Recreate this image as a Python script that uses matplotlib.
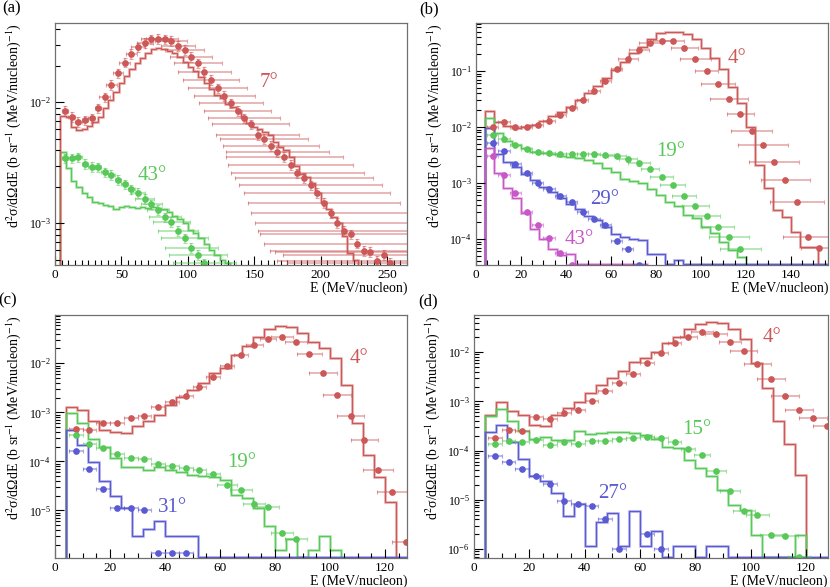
import numpy as np
import matplotlib
matplotlib.use("Agg")
import matplotlib.pyplot as plt
from matplotlib.ticker import LogLocator, MultipleLocator, NullFormatter

plt.rcParams['font.family'] = ['Liberation Serif', 'DejaVu Serif']
plt.rcParams['mathtext.fontset'] = 'stix'

RED = '#cc5858'
GREEN = '#58c858'
BLUE = '#5a5ad2'
MAGENTA = '#c858c8'

# ---------------- panel (a) ----------------
a_e7 = np.arange(7.5, 253, 5)
a_y7 = [8.5e-3, 7.6e-3, 6.9e-3, 7.1e-3, 7.4e-3, 8.9e-3, 1.1e-2, 1.39e-2, 1.74e-2, 2.13e-2,
        2.51e-2, 2.85e-2, 3.11e-2, 3.32e-2, 3.34e-2, 3.32e-2, 3.21e-2, 2.92e-2, 2.71e-2, 2.38e-2,
        2.1e-2, 1.79e-2, 1.53e-2, 1.31e-2, 1.13e-2, 9.8e-3, 8.5e-3, 7.4e-3, 6.6e-3, 5.4e-3,
        5.0e-3, 4.36e-3, 3.9e-3, 3.55e-3, 3.03e-3, 2.59e-3, 2.38e-3, 2.07e-3, 1.79e-3, 1.48e-3,
        1.21e-3, 1.01e-3, 8.7e-4, 8.1e-4, 6.8e-4, 5.9e-4, 5.8e-4, 4.9e-4, 5.5e-4, 4.7e-4]
a_xerr7 = [2.5, 2.5, 2.5, 2.5, 2.5, 2.5, 4, 4, 4, 4, 4, 5, 6, 8, 9, 10, 12, 13, 15, 16, 18,
           20, 21, 22, 23, 24, 25, 27, 29, 31, 33, 36, 39, 44, 47, 50, 52, 54, 55, 57, 60,
           62, 65, 68, 70, 71, 72, 75, 76, 78]
a_h7 = [7.7e-3, 7.6e-3, 6.3e-3, 5.9e-3, 6.0e-3, 6.4e-3, 6.9e-3, 7.6e-3, 8.9e-3, 1.05e-2,
        1.22e-2, 1.44e-2, 1.65e-2, 1.87e-2, 2.1e-2, 2.34e-2, 2.57e-2, 2.74e-2, 2.8e-2, 2.74e-2,
        2.67e-2, 2.54e-2, 2.35e-2, 2.17e-2, 1.97e-2, 1.83e-2, 1.63e-2, 1.44e-2, 1.28e-2, 1.15e-2,
        1.08e-2, 9.6e-3, 9.1e-3, 8.4e-3, 7.6e-3, 6.8e-3, 6.3e-3, 6.0e-3, 5.7e-3, 5.4e-3,
        4.7e-3, 4.3e-3, 4.0e-3, 3.55e-3, 3.0e-3, 2.56e-3, 2.43e-3, 2.14e-3, 1.77e-3, 1.51e-3,
        1.3e-3, 1.13e-3, 1.0e-3, 7.8e-4, 5.65e-4, 5.0e-4]

a_e43 = np.arange(7.5, 113, 5)
a_y43 = [3.44e-3, 3.44e-3, 3.51e-3, 3.09e-3, 2.94e-3, 2.90e-3, 2.64e-3, 2.51e-3, 2.28e-3, 2.10e-3,
         1.91e-3, 1.79e-3, 1.59e-3, 1.44e-3, 1.29e-3, 1.12e-3, 1.03e-3, 8.7e-4, 7.5e-4, 6.3e-4,
         5.5e-4, 4.67e-4]
a_xerr43 = [2.5, 2.5, 2.5, 2.5, 2.5, 2.5, 2.5, 2.5, 2.5, 2.5, 2.5,
            5, 7, 8, 8, 12, 14, 15, 18, 20, 22, 24]
a_h43 = [3.9e-3, 2.85e-3, 2.25e-3, 2.01e-3, 1.79e-3, 1.66e-3, 1.51e-3, 1.46e-3, 1.42e-3, 1.39e-3,
         1.31e-3, 1.36e-3, 1.39e-3, 1.37e-3, 1.33e-3, 1.36e-3, 1.33e-3, 1.37e-3, 1.33e-3, 1.30e-3,
         1.25e-3, 1.15e-3, 1.08e-3, 1.0e-3, 8.8e-4, 8.3e-4, 7.5e-4, 6.8e-4, 6.0e-4, 5.5e-4,
         5.0e-4, 4.7e-4]

# ---------------- panel (b) ----------------
b_e4 = np.arange(7.5, 153, 5)
b_y4 = [1.0e-2, 1.24e-2, 9.8e-3, 9.9e-3, 1.08e-2, 1.29e-2, 1.63e-2, 2.15e-2, 3.03e-2, 4.45e-2,
        6.7e-2, 0.107, 0.162, 0.238, 0.313, 0.349, 0.34, 0.254, 0.162, 0.101,
        5.85e-2, 3.16e-2, 1.70e-2, 8.6e-3, 4.68e-3, 2.4e-3, 1.15e-3, 4.6e-4, 1.08e-4, 7.0e-5]
b_xerr4 = [2.5] * 12 + [4.5, 4.5, 5, 4, 5, 6, 7, 5, 7.5, 8.5, 6, 9, 11, 11, 11, 12, 11, 8]
b_h4 = [1.95e-2, 1.24e-2, 1.05e-2, 9.6e-3, 1.0e-2, 1.1e-2, 1.3e-2, 1.55e-2, 1.85e-2, 2.3e-2,
        3.0e-2, 4.0e-2, 5.4e-2, 7.4e-2, 0.104, 0.147, 0.207, 0.272, 0.368, 0.472,
        0.505, 0.492, 0.459, 0.368, 0.254, 0.169, 0.107, 5.1e-2, 2.72e-2, 1.0e-2,
        2.1e-3, 8.0e-4, 3.3e-4, 2.5e-4, 1.35e-4, 7.1e-5, 7.1e-5]

b_e19 = np.arange(7.5, 118, 5)
b_y19 = [7.2e-3, 6.0e-3, 4.75e-3, 3.97e-3, 3.61e-3, 3.37e-3, 3.28e-3, 3.28e-3, 3.28e-3, 3.23e-3,
         3.14e-3, 3.06e-3, 2.63e-3, 2.23e-3, 1.81e-3, 1.29e-3, 9.1e-4, 5.9e-4, 3.85e-4, 2.55e-4,
         1.64e-4, 1.09e-4, 6.7e-5]
b_xerr19 = [2.5] * 10 + [4, 4, 4, 5, 4, 5, 5.5, 5.5, 6, 6, 7, 9, 9]
b_h19 = [1.42e-2, 7.9e-3, 5.68e-3, 4.75e-3, 4.14e-3, 3.61e-3, 3.46e-3, 3.28e-3, 3.01e-3, 2.93e-3,
         2.74e-3, 2.56e-3, 2.23e-3, 1.87e-3, 1.54e-3, 1.2e-3, 1.1e-3, 9.9e-4, 7.7e-4, 6.1e-4,
         4.65e-4, 3.9e-4, 2.68e-4, 2.34e-4, 1.66e-4, 1.26e-4, 8.95e-5, 6.4e-5, 4.7e-5]

b_e29 = np.arange(7.5, 73, 5)
b_y29 = [5.2e-3, 3.7e-3, 2.17e-3, 1.5e-3, 1.0e-3, 7.9e-4, 5.9e-4, 4.6e-4, 3.0e-4, 2.25e-4,
         1.81e-4, 9.2e-5, 6.5e-5, 3.5e-5]
b_h29 = [9.5e-3, 3.3e-3, 2.4e-3, 1.9e-3, 1.45e-3, 1.12e-3, 8.5e-4, 6.9e-4, 5.5e-4, 4.18e-4,
         3.49e-4, 2.55e-4, 2.16e-4, 1.64e-4, 1.25e-4, 1.1e-4, 1.0e-4, 9.6e-5, 5.5e-5, 5.5e-5,
         0, 4.3e-5] + [0] * 16

b_e43 = np.arange(7.5, 43, 5)
b_y43 = [3.03e-3, 1.39e-3, 6.5e-4, 3.05e-4, 1.75e-4, 1.02e-4, 5.7e-5, 3.5e-5]
b_h43 = [4.3e-3, 1.5e-3, 8.2e-4, 5.3e-4, 2.9e-4, 1.5e-4, 1.0e-4, 6.5e-5, 5.2e-5, 5.5e-5] + [0] * 8

# ---------------- panel (c) ----------------
c_e4 = np.arange(7.5, 128, 5)
c_y4 = [4.53e-4, 4.39e-4, 6.19e-4, 6.0e-4, 7.6e-4, 8.46e-4, 1.27e-3, 1.66e-3, 2.16e-3, 3.25e-3,
        5.19e-3, 8.8e-3, 1.48e-2, 2.36e-2, 3.08e-2, 3.39e-2, 2.68e-2, 1.55e-2, 6.45e-3, 2.26e-3,
        8.46e-4, 2.75e-4, 6.6e-5, 2.35e-5, 2.3e-6]
c_xerr4 = [2.5] * 13 + [3, 3, 4, 4, 4.5, 5, 5, 5, 5, 5.5, 5.5, 5]
c_h4 = [1.31e-3, 1.09e-3, 6.5e-4, 4.39e-4, 4.06e-4, 3.87e-4, 5.3e-4, 6.5e-4, 8.87e-4, 1.42e-3,
        2.09e-3, 2.86e-3, 4.04e-3, 6.25e-3, 7.9e-3, 1.48e-2, 2.25e-2, 3.49e-2, 4.92e-2, 5.75e-2,
        5.4e-2, 4.08e-2, 2.76e-2, 2.02e-2, 1.26e-2, 3.62e-3, 6.0e-4, 1.36e-4, 4.9e-5, 1.45e-5]

c_e19 = np.arange(7.5, 88, 5)
c_y19 = [3.37e-4, 2.24e-4, 1.91e-4, 1.40e-4, 1.16e-4, 1.13e-4, 8.9e-5, 8.1e-5, 7.3e-5, 6.7e-5,
         5.5e-5, 3.33e-5, 2.6e-5, 1.35e-5, 1.18e-5, 3.5e-6, 2.6e-6]
c_xerr19 = [2.5] * 11 + [3.5, 4, 4, 4, 4, 4]
c_h19 = [9.6e-4, 6.0e-4, 2.83e-4, 1.95e-4, 1.16e-4, 7.85e-5, 7.85e-5, 6.7e-5, 7.6e-5, 6.7e-5,
         5.93e-5, 5.32e-5, 5.1e-5, 4.8e-5, 4.2e-5, 2.09e-5, 1.79e-5, 1.12e-5, 4.72e-6, 1.58e-6,
         2.61e-6, 0, 1.58e-6, 3.05e-6, 1.58e-6]

c_e31 = np.arange(7.5, 48, 5)
c_y31 = [1.59e-4, 6.9e-5, 2.76e-5, 1.11e-5, 1.11e-5, 1.0e-5, 1.35e-6, 1.35e-6, 1.35e-6]
c_h31 = [4.39e-4, 2.17e-4, 9.93e-5, 3.89e-5, 1.99e-5, 1.11e-5, 2.95e-6, 4.16e-6, 6.15e-6, 2.95e-6,
         2.95e-6, 2.95e-6] + [0] * 19

# ---------------- panel (d) ----------------
d_e4 = np.arange(7.5, 128, 5)
d_y4 = [1.8e-4, 2.66e-4, 2.54e-4, 4.81e-4, 4.38e-4, 5.8e-4, 6.56e-4, 1.0e-3, 1.6e-3, 2.35e-3,
        3.63e-3, 5.98e-3, 9.55e-3, 1.52e-2, 2.02e-2, 2.63e-2, 2.32e-2, 1.65e-2, 1.08e-2, 5.8e-3,
        2.92e-3, 1.3e-3, 6.55e-4, 4.57e-4, 3.1e-4]
d_xerr4 = [2.5] * 14 + [3, 4, 4, 4, 5, 5, 5, 5, 5, 5, 5]
d_h4 = [5.36e-4, 9.55e-4, 6.27e-4, 5.36e-4, 3.36e-4, 3.1e-4, 5.36e-4, 7.3e-4, 9.55e-4, 1.48e-3,
        2.18e-3, 2.98e-3, 4.18e-3, 6.45e-3, 7.55e-3, 1.03e-2, 1.52e-2, 2.08e-2, 2.93e-2, 3.76e-2,
        4.2e-2, 3.88e-2, 2.93e-2, 1.84e-2, 6.16e-3, 1.86e-3, 3.91e-4, 1.37e-4, 3.2e-5]

d_e15 = np.arange(7.5, 118, 5)
d_y15 = [1.36e-4, 1.59e-4, 1.47e-4, 1.66e-4, 1.32e-4, 1.47e-4, 1.38e-4, 1.54e-4, 1.59e-4, 1.69e-4,
         1.8e-4, 1.88e-4, 1.8e-4, 1.53e-4, 1.09e-4, 7.96e-5, 3.94e-5, 1.48e-5, 5.8e-6, 4.97e-6,
         1.95e-6, 1.8e-6, 6.9e-7]
d_xerr15 = [2.5] * 15 + [3, 3.5, 3.7, 4, 4, 4, 4.5, 4]
d_h15 = [4.96e-4, 6.98e-4, 4.05e-4, 2.54e-4, 1.72e-4, 1.89e-4, 1.66e-4, 1.66e-4, 2.46e-4, 2.2e-4,
         2.27e-4, 2.35e-4, 2.4e-4, 2.3e-4, 2.1e-4, 1.75e-4, 1.2e-4, 1.12e-4, 6.3e-5, 4.4e-5,
         3.08e-5, 1.6e-5, 7.9e-6, 6.1e-6, 1.95e-6, 0, 0, 0, 1.97e-6]

d_e27 = [7.5, 12.5, 17.5, 22.5, 27.5, 32.5, 37.5, 42.5, 47.5, 52.5, 62.5, 67.5]
d_y27 = [7.6e-5, 5.86e-5, 4.29e-5, 3.0e-5, 2.1e-5, 9.3e-6, 8.2e-6, 7.4e-6, 4.07e-6, 1.0e-6,
         2.0e-6, 1.0e-6]
d_h27 = [2.34e-4, 3.26e-4, 1.47e-4, 6.7e-5, 3.0e-5, 2.37e-5, 1.37e-5, 4.76e-6, 8.3e-6, 1.17e-6,
         3.5e-6, 5.5e-6, 1.13e-6, 6.0e-6, 1.13e-6, 2.36e-6, 0, 1.13e-6, 1.13e-6, 0,
         1.13e-6, 1.13e-6] + [0] * 9

BIN0, BINW = 4, 4
W, H = 830, 587


def make_axes(fig, left, top, right, bottom):
    return fig.add_axes([left / W, 1 - bottom / H, (right - left) / W, (bottom - top) / H])


def hist(ax, vals, color, ymin):
    # empty bins are drawn along the bottom of the frame, as ROOT does
    vals = np.clip(np.asarray(vals, dtype=float), ymin * 1.03, None)
    edges = BIN0 + BINW * np.arange(len(vals) + 1)
    ax.stairs(vals, edges, baseline=ymin * 1e-3, color=color, lw=2.2, alpha=0.3)
    ax.stairs(vals, edges, baseline=ymin * 1e-3, color=color, lw=1.0)


def points(ax, e, y, xerr, rel, color):
    y = np.asarray(y)
    ax.errorbar(e, y, yerr=y * rel, xerr=xerr, fmt='none', ecolor=color, elinewidth=1.1,
                capsize=1.5, capthick=0.8, alpha=0.55)
    ax.plot(e, y, 'o', color=color, ms=3.8, mec=color)


def style(ax, xmax, ylim, xmajor):
    ax.set_yscale('log')
    ax.set_xlim(0, xmax)
    ax.set_ylim(*ylim)
    ax.xaxis.set_major_locator(MultipleLocator(xmajor))
    ax.xaxis.set_minor_locator(MultipleLocator(5))
    ax.yaxis.set_major_locator(LogLocator(10))
    ax.yaxis.set_minor_locator(LogLocator(10, subs=np.arange(2, 10)))
    ax.yaxis.set_minor_formatter(NullFormatter())
    ax.tick_params(which='both', direction='in', top=False, right=False,
                   color='black', width=0.8)
    ax.tick_params(axis='x', labelsize=9.5)
    ax.tick_params(axis='y', labelsize=8.5)
    ax.tick_params(which='major', length=6.5, pad=3)
    ax.tick_params(which='minor', length=3.5)
    for s in ax.spines.values():
        s.set_color('#707070')
        s.set_linewidth(0.9)
    ax.set_xlabel('E (MeV/nucleon)', loc='right', fontsize=10, labelpad=0)
    ax.set_ylabel(r'd$^{2}$σ/dΩdE (b sr$^{-1}$ (MeV/nucleon)$^{-1}$)', loc='top', fontsize=10,
                  labelpad=4)


fig = plt.figure(figsize=(8.3, 5.87), dpi=100)

# (a)
ax = make_axes(fig, 55, 23, 407, 265)
ylo = 4.52e-4
hist(ax, a_h43, GREEN, ylo)
hist(ax, a_h7, RED, ylo)
points(ax, a_e43, a_y43, a_xerr43, 0.09, GREEN)
points(ax, a_e7, a_y7, a_xerr7, 0.09, RED)
style(ax, 265, (ylo, 4.52e-2), 50)
ax.text(161, 1.47e-2, '7°', color=RED, fontsize=15, ha='center', va='center')
ax.text(73, 2.46e-3, '43°', color=GREEN, fontsize=15, ha='center', va='center')

# (b)
ax = make_axes(fig, 476, 23, 828, 265)
ylo = 3.43e-5
hist(ax, b_h4, RED, ylo)
hist(ax, b_h19, GREEN, ylo)
hist(ax, b_h29, BLUE, ylo)
hist(ax, b_h43, MAGENTA, ylo)
points(ax, b_e4, b_y4, b_xerr4, 0.08, RED)
points(ax, b_e19, b_y19, b_xerr19, 0.08, GREEN)
points(ax, b_e29, b_y29, 2.5, 0.08, BLUE)
points(ax, b_e43, b_y43, 2.5, 0.08, MAGENTA)
style(ax, 156.5, (ylo, 0.72), 20)
ax.text(116, 0.164, '4°', color=RED, fontsize=15, ha='center', va='center')
ax.text(86.4, 3.58e-3, '19°', color=GREEN, fontsize=15, ha='center', va='center')
ax.text(57, 4.97e-4, '29°', color=BLUE, fontsize=15, ha='center', va='center')
ax.text(46, 9.6e-5, '43°', color=MAGENTA, fontsize=15, ha='center', va='center')

# (c)
ax = make_axes(fig, 55, 315, 407, 558)
ylo = 1.07e-6
hist(ax, c_h4, RED, ylo)
hist(ax, c_h19, GREEN, ylo)
hist(ax, c_h31, BLUE, ylo)
points(ax, c_e4, c_y4, c_xerr4, 0.06, RED)
points(ax, c_e19, c_y19, c_xerr19, 0.06, GREEN)
points(ax, c_e31, c_y31, 2.5, 0.06, BLUE)
style(ax, 128, (ylo, 9.64e-2), 20)
ax.text(110.4, 1.28e-2, '4°', color=RED, fontsize=15, ha='center', va='center')
ax.text(68, 9.3e-5, '19°', color=GREEN, fontsize=15, ha='center', va='center')
ax.text(42.8, 1.13e-5, '31°', color=BLUE, fontsize=15, ha='center', va='center')

# (d)
ax = make_axes(fig, 474, 315, 828, 558)
ylo = 6.56e-7
hist(ax, d_h4, RED, ylo)
hist(ax, d_h15, GREEN, ylo)
hist(ax, d_h27, BLUE, ylo)
points(ax, d_e4, d_y4, d_xerr4, 0.05, RED)
points(ax, d_e15, d_y15, d_xerr15, 0.05, GREEN)
points(ax, d_e27, d_y27, 2.5, 0.05, BLUE)
style(ax, 128, (ylo, 5.71e-2), 20)
ax.text(107.8, 1.95e-2, '4°', color=RED, fontsize=15, ha='center', va='center')
ax.text(80.5, 2.64e-4, '15°', color=GREEN, fontsize=15, ha='center', va='center')
ax.text(50.3, 1.33e-5, '27°', color=BLUE, fontsize=15, ha='center', va='center')

for lab, x, y in [('(a)', 12, 8), ('(b)', 429, 9), ('(c)', 8, 300), ('(d)', 428, 301)]:
    fig.text(x / W, 1 - y / H, lab, fontsize=12, ha='center', va='center')

fig.savefig('out.png', dpi=100)
